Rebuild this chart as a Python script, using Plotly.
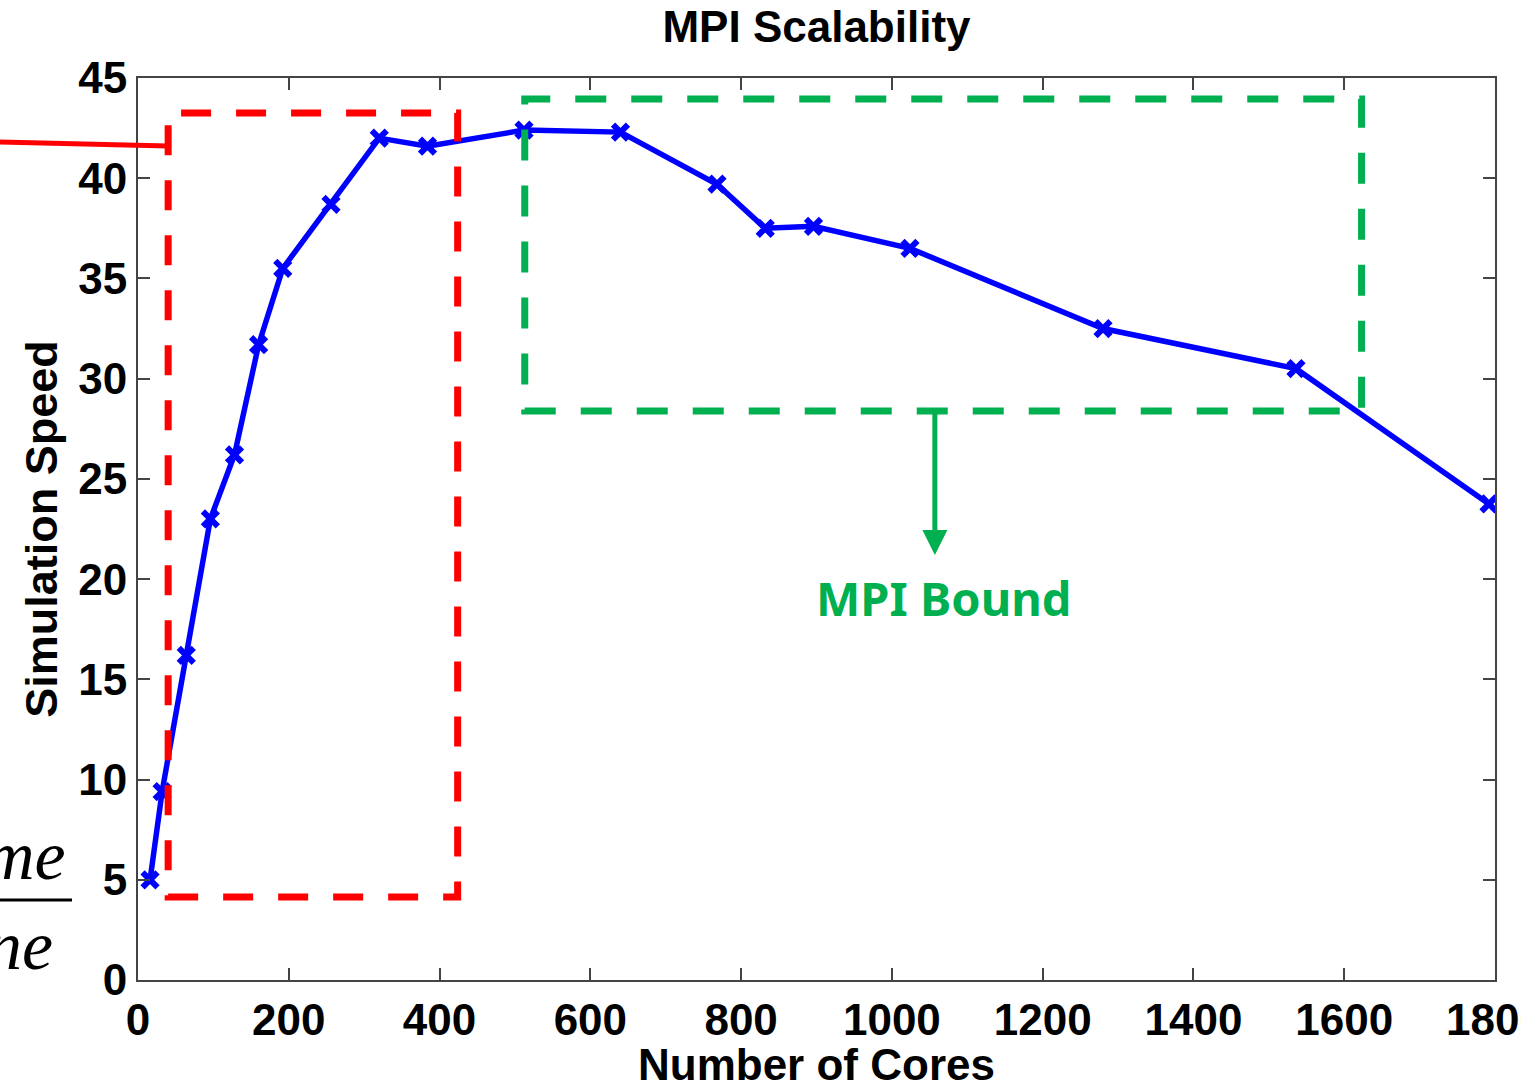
import plotly.graph_objects as go

cores = [16, 32, 64, 96, 128, 160, 192, 256, 320, 384, 512, 640, 768, 832, 896, 1024, 1280, 1536, 1792]
speed = [5.0, 9.4, 16.2, 23.0, 26.2, 31.7, 35.5, 38.7, 42.0, 41.6, 42.4, 42.3, 39.7, 37.5, 37.6, 36.5, 32.5, 30.5, 23.75]

x_ticks = [0, 200, 400, 600, 800, 1000, 1200, 1400, 1600, 1800]
y_ticks = [0, 5, 10, 15, 20, 25, 30, 35, 40, 45]

red_box = dict(x0=40, x1=424, y0=4.14, y1=43.25)
green_box = dict(x0=513, x1=1623, y0=28.39, y1=43.95)

fig = go.Figure()
fig.add_trace(go.Scatter(
    x=cores, y=speed, mode="lines+markers",
    line=dict(color="#0000FF", width=5.5),
    marker=dict(symbol="x-thin", size=15, line=dict(color="#0000FF", width=6), color="#0000FF"),
    showlegend=False,
))

FONT = "Liberation Sans, Arial, sans-serif"
axis_font = dict(family=FONT, size=44, color="black")
fig.update_layout(
    width=1521, height=1085,
    margin=dict(l=138, r=26, t=78, b=105),
    plot_bgcolor="white", paper_bgcolor="white",
    title=dict(text="<b>MPI Scalability</b>", x=0.5, xref="paper", xanchor="center",
               y=1 - 27 / 1085, yref="container", yanchor="middle",
               font=dict(family=FONT, size=44, color="black")),
    xaxis=dict(range=[0, 1800], tickvals=x_ticks, ticktext=[f"<b>{v}</b>" for v in x_ticks],
               ticks="inside", ticklen=12, tickwidth=2, tickcolor="#444",
               showline=True, linecolor="#444", linewidth=2, mirror="ticks",
               showgrid=False, zeroline=False, tickfont=axis_font,
               ticklabeloverflow="allow", automargin=False),
    yaxis=dict(range=[0, 45], tickvals=y_ticks, ticktext=[f"<b>{v}</b>" for v in y_ticks],
               ticks="inside", ticklen=12, tickwidth=2, tickcolor="#444",
               showline=True, linecolor="#444", linewidth=2, mirror="ticks",
               showgrid=False, zeroline=False, tickfont=axis_font,
               ticklabeloverflow="allow", automargin=False,
               title=dict(text="<b>Simulation Speed</b>", standoff=6,
                          font=dict(family=FONT, size=45, color="black"))),
)

# x-axis title placed just below the tick labels
fig.add_annotation(x=0.5, y=(980 - 1064) / 902, xref="paper", yref="paper",
                   text="<b>Number of Cores</b>", showarrow=False,
                   xanchor="center", yanchor="middle",
                   font=dict(family=FONT, size=44, color="black"))

fig.add_shape(type="rect", xref="x", yref="y", **red_box,
              line=dict(color="#FF0000", width=7, dash="30px,25px"))
fig.add_shape(type="rect", xref="x", yref="y", **green_box,
              line=dict(color="#00B050", width=7, dash="31px,25px"))
# red leader line coming from the left
fig.add_shape(type="line", xref="paper", yref="paper",
              x0=-0.1017, y0=0.929, x1=0.0221, y1=0.9246,
              line=dict(color="#FF0000", width=5))

# green arrow and label
fig.add_annotation(x=1057, y=21.2, ax=1057, ay=green_box["y0"], xref="x", yref="y",
                   axref="x", ayref="y", text="", showarrow=True,
                   arrowhead=2, arrowsize=1.0, arrowwidth=5, arrowcolor="#00B050")
fig.add_annotation(x=1068, y=19.05, xref="x", yref="y", text="<b>MPI Bound</b>",
                   showarrow=False, xanchor="center", yanchor="middle",
                   font=dict(family="Noto Sans, Open Sans, sans-serif", size=47, color="#00B050"))

# cropped math fraction on the left
fig.add_annotation(x=(68 - 138) / 1357, y=(980 - 855) / 902, xref="paper", yref="paper",
                   text="<i>me</i>", showarrow=False, xanchor="right", yanchor="middle",
                   font=dict(family="Liberation Serif, DejaVu Serif, serif", size=70, color="black"))
fig.add_annotation(x=(55 - 138) / 1357, y=(980 - 945) / 902, xref="paper", yref="paper",
                   text="<i>ne</i>", showarrow=False, xanchor="right", yanchor="middle",
                   font=dict(family="Liberation Serif, DejaVu Serif, serif", size=70, color="black"))
fig.add_shape(type="line", xref="paper", yref="paper",
              x0=-0.12, y0=(980 - 900) / 902, x1=(72 - 138) / 1357, y1=(980 - 900) / 902,
              line=dict(color="black", width=3))

fig.write_html("out.html")
